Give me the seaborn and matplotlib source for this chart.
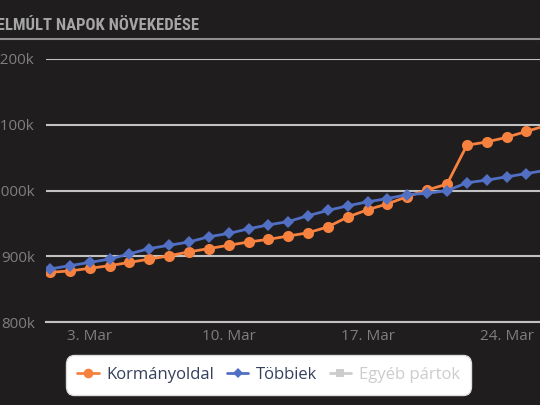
import pandas as pd
import seaborn as sns
import matplotlib.pyplot as plt
from matplotlib.lines import Line2D
from matplotlib import font_manager

dates = pd.date_range('2018-03-01', periods=26, freq='D')
korm = [876, 878, 882, 886, 891, 896, 901, 907, 912, 917, 922, 926, 931, 936,
        945, 960, 971, 980, 991, 1001, 1010, 1069, 1074, 1081, 1090, 1099]
tobbiek = [881, 886, 891, 896, 904, 912, 917, 922, 930, 935, 942, 948, 953, 962,
           970, 977, 983, 988, 994, 996, 1000, 1012, 1016, 1021, 1026, 1031]
series_names = ['Kormányoldal', 'Többiek', 'Egyéb pártok']
y_ticks = [800, 900, 1000, 1100, 1200]
y_labels = ['800k', '900k', '1000k', '1100k', '1200k']
x_tick_days = ['2018-03-03', '2018-03-10', '2018-03-17', '2018-03-24']
x_labels = ['3. Mar', '10. Mar', '17. Mar', '24. Mar']
title = 'AZ ELMÚLT NAPOK NÖVEKEDÉSE'

bg = '#1f1d1e'
grid_c = '#c2c2c2'
orange = '#f7813f'
blue = '#5170c4'
hidden = '#cccccc'

df = pd.DataFrame({
    'date': list(dates) * 2,
    'value': korm + tobbiek,
    'series': [series_names[0]] * len(korm) + [series_names[1]] * len(tobbiek),
})

sns.set_theme(style='dark')
plt.rcParams['font.family'] = ['Open Sans', 'DejaVu Sans']

names = {f.name for f in font_manager.fontManager.ttflist}
title_font = 'DejaVu Sans'
for cand in ['Liberation Sans Narrow', 'DejaVu Sans Condensed', 'Roboto Condensed']:
    if cand in names:
        title_font = cand
        break

fig = plt.figure(figsize=(5.4, 4.05), dpi=100, facecolor=bg)
ax = fig.add_axes([46 / 540, 82.7 / 405, 514 / 540, 263.3 / 405])
ax.set_facecolor(bg)

sns.lineplot(data=df, x='date', y='value', hue='series', style='series',
             palette=[orange, blue], markers=['o', 'D'], dashes=False,
             linewidth=2, markersize=8, markeredgewidth=0, ax=ax, legend=False)
# diamonds a bit smaller
ax.lines[1].set_markersize(6.5)

ax.set_ylim(800, 1200)
ax.set_xlim(dates[0] - pd.Timedelta(hours=4.8), dates[0] + pd.Timedelta(days=25.69))
ax.set_yticks(y_ticks)
ax.set_yticklabels(y_labels)
ax.set_xticks(pd.to_datetime(x_tick_days))
ax.set_xticklabels(x_labels)
ax.set_xlabel('')
ax.set_ylabel('')

ax.yaxis.grid(True, color=grid_c, linewidth=1.5)
ax.xaxis.grid(False)
ax.set_axisbelow(True)
for s in ['top', 'right', 'left']:
    ax.spines[s].set_visible(False)
ax.spines['bottom'].set_color(grid_c)
ax.spines['bottom'].set_linewidth(1.5)
ax.tick_params(axis='y', length=0, pad=8, labelsize=11, labelcolor='#7f7f7f')
ax.tick_params(axis='x', length=3.6, width=1.2, color=grid_c, direction='out',
               pad=1.5, labelsize=11, labelcolor='#7f7f7f')

# title and rule
fig.text(199 / 540, 1 - 30.5 / 405, title, ha='right', va='baseline',
         fontsize=12, fontweight='bold', color='#a6a6a6', family=title_font)
fig.add_artist(Line2D([0, 1], [1 - 39.3 / 405] * 2, color='#8e8e8e', linewidth=1.5))

handles = [
    Line2D([], [], color=orange, marker='o', markersize=7, markeredgewidth=0, linewidth=2),
    Line2D([], [], color=blue, marker='D', markersize=5.5, markeredgewidth=0, linewidth=2),
    Line2D([], [], color=hidden, marker='s', markersize=6, markeredgewidth=0, linewidth=2),
]
leg = fig.legend(handles, series_names, loc='center', bbox_to_anchor=(268.5 / 540, 1 - 375 / 405),
                 ncol=3, fontsize=12, frameon=True, fancybox=True, framealpha=1,
                 facecolor='white', edgecolor='#dddddd', handlelength=1.3,
                 handletextpad=0.45, columnspacing=0.75, borderpad=0.5)
leg.get_frame().set_boxstyle('round', pad=0.2, rounding_size=0.5)
for t, c in zip(leg.get_texts(), ['#34405c', '#34405c', hidden]):
    t.set_color(c)

fig.savefig('out.png', dpi=100, facecolor=bg)
